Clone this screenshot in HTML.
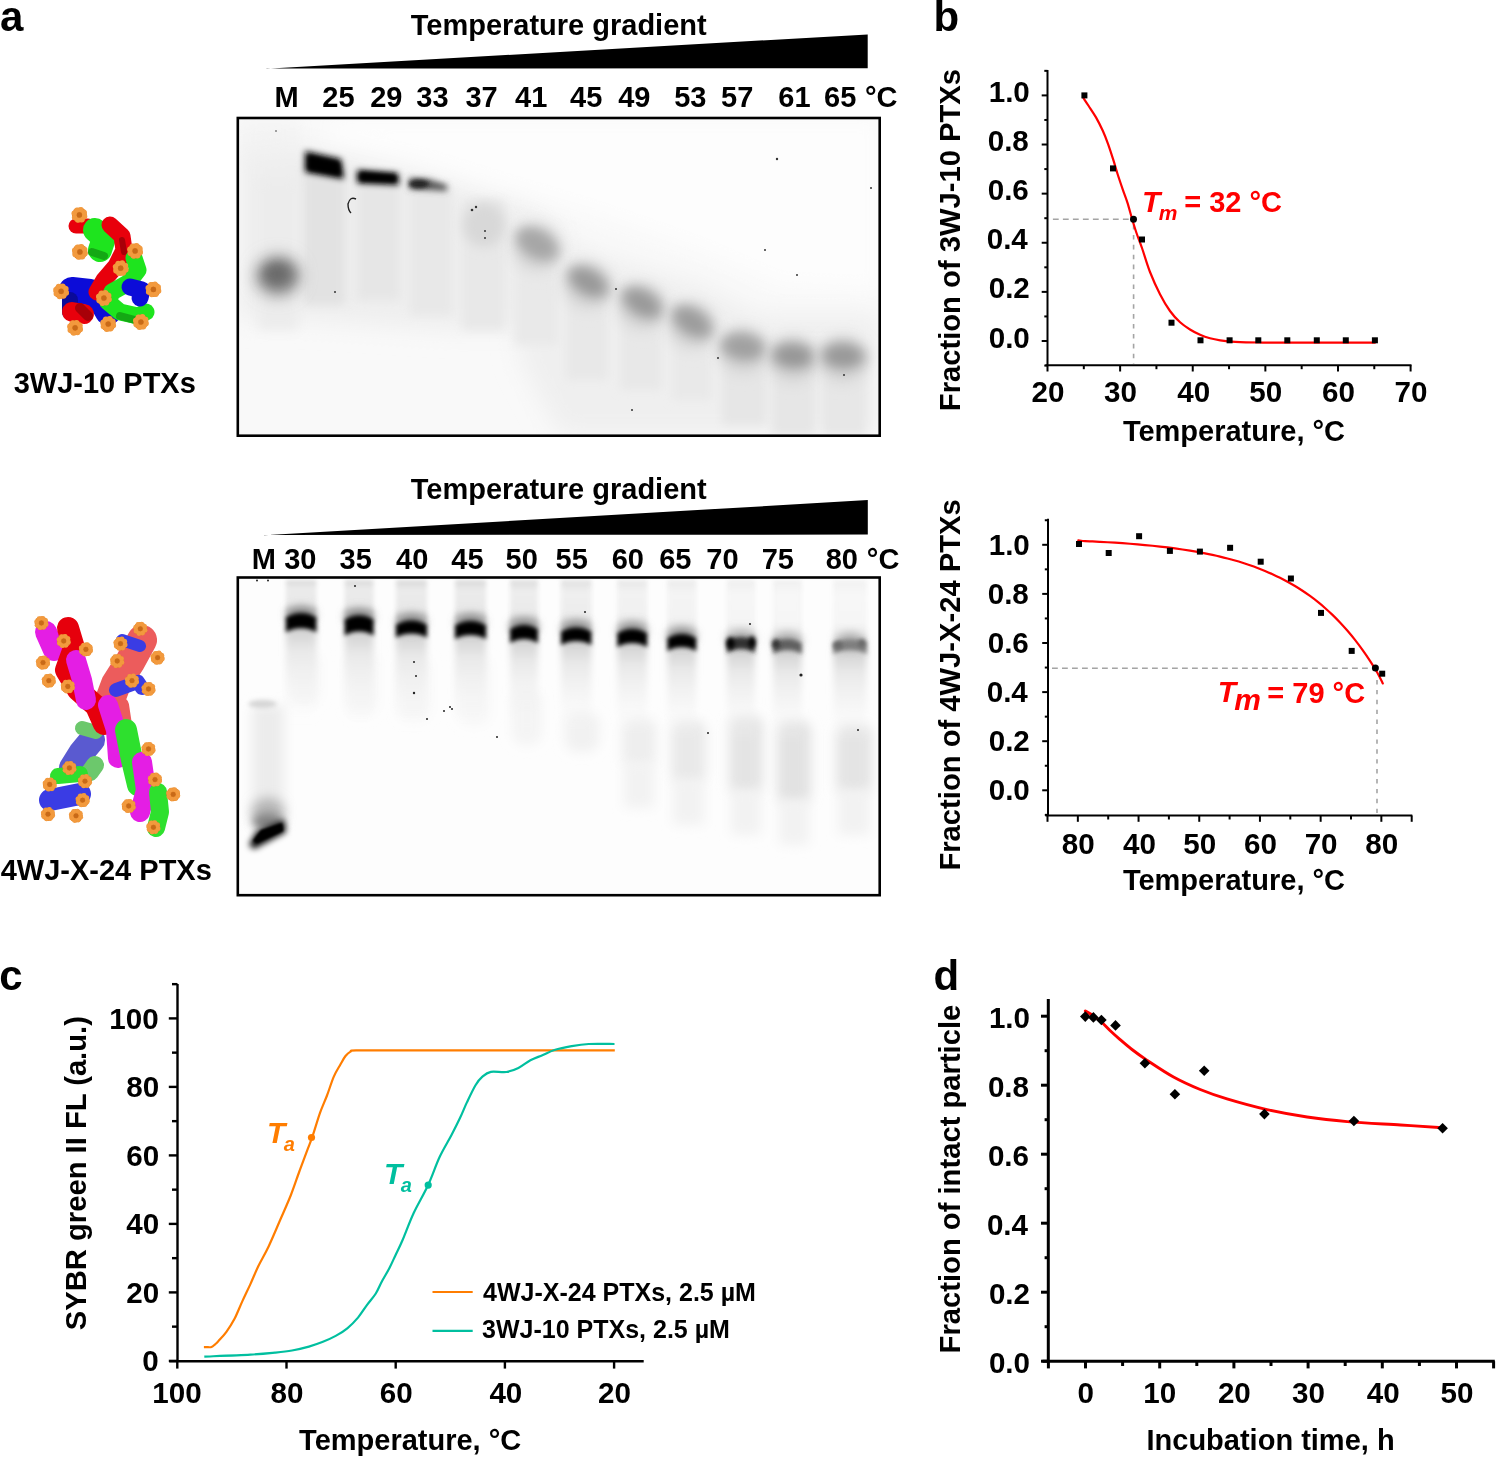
<!DOCTYPE html><html><head><meta charset="utf-8"><style>html,body{margin:0;padding:0;background:#fff;}svg{display:block;will-change:transform;}text{font-family:"Liberation Sans",sans-serif;}</style></head><body>
<svg width="1497" height="1457" viewBox="0 0 1497 1457">
<defs><filter id="b1" filterUnits="userSpaceOnUse" x="0" y="0" width="1497" height="1457"><feGaussianBlur stdDeviation="1"/></filter><filter id="b2" filterUnits="userSpaceOnUse" x="0" y="0" width="1497" height="1457"><feGaussianBlur stdDeviation="2"/></filter><filter id="b3" filterUnits="userSpaceOnUse" x="0" y="0" width="1497" height="1457"><feGaussianBlur stdDeviation="3"/></filter><filter id="b4" filterUnits="userSpaceOnUse" x="0" y="0" width="1497" height="1457"><feGaussianBlur stdDeviation="4"/></filter><filter id="b5" filterUnits="userSpaceOnUse" x="0" y="0" width="1497" height="1457"><feGaussianBlur stdDeviation="5"/></filter><filter id="b6" filterUnits="userSpaceOnUse" x="0" y="0" width="1497" height="1457"><feGaussianBlur stdDeviation="6"/></filter><filter id="b8" filterUnits="userSpaceOnUse" x="0" y="0" width="1497" height="1457"><feGaussianBlur stdDeviation="8"/></filter><filter id="b9" filterUnits="userSpaceOnUse" x="0" y="0" width="1497" height="1457"><feGaussianBlur stdDeviation="9"/></filter><filter id="b12" filterUnits="userSpaceOnUse" x="0" y="0" width="1497" height="1457"><feGaussianBlur stdDeviation="12"/></filter></defs>
<rect width="1497" height="1457" fill="#fff"/>
<text x="0.00" y="31.30" font-size="42" font-weight="bold" fill="#000" >a</text>
<text x="933.50" y="30.90" font-size="42" font-weight="bold" fill="#000" >b</text>
<text x="-0.70" y="990.30" font-size="42" font-weight="bold" fill="#000" >c</text>
<text x="933.40" y="990.30" font-size="42" font-weight="bold" fill="#000" >d</text>
<polygon points="266.5,68.8 867.7,34.4 867.7,68.3 266.5,68.6" fill="#000"/>
<polygon points="264.1,535.2 867.8,500.1 867.8,534.6 264.1,534.9" fill="#000"/>
<text x="410.70" y="34.50" font-size="29" font-weight="bold" fill="#000" >Temperature gradient</text>
<text x="410.70" y="499.30" font-size="29" font-weight="bold" fill="#000" >Temperature gradient</text>
<text x="274.60" y="106.60" font-size="29" font-weight="bold" fill="#000" >M</text>
<text x="322.30" y="106.60" font-size="29" font-weight="bold" fill="#000" >25</text>
<text x="370.20" y="106.60" font-size="29" font-weight="bold" fill="#000" >29</text>
<text x="416.30" y="106.60" font-size="29" font-weight="bold" fill="#000" >33</text>
<text x="465.40" y="106.60" font-size="29" font-weight="bold" fill="#000" >37</text>
<text x="515.00" y="106.60" font-size="29" font-weight="bold" fill="#000" >41</text>
<text x="570.00" y="106.60" font-size="29" font-weight="bold" fill="#000" >45</text>
<text x="618.20" y="106.60" font-size="29" font-weight="bold" fill="#000" >49</text>
<text x="674.20" y="106.60" font-size="29" font-weight="bold" fill="#000" >53</text>
<text x="721.00" y="106.60" font-size="29" font-weight="bold" fill="#000" >57</text>
<text x="778.30" y="106.60" font-size="29" font-weight="bold" fill="#000" >61</text>
<text x="824.00" y="106.60" font-size="29" font-weight="bold" fill="#000" >65</text>
<text x="864.90" y="106.60" font-size="29" font-weight="bold" fill="#000" >°C</text>
<text x="251.70" y="568.60" font-size="29" font-weight="bold" fill="#000" >M</text>
<text x="284.20" y="568.60" font-size="29" font-weight="bold" fill="#000" >30</text>
<text x="339.50" y="568.60" font-size="29" font-weight="bold" fill="#000" >35</text>
<text x="396.10" y="568.60" font-size="29" font-weight="bold" fill="#000" >40</text>
<text x="451.30" y="568.60" font-size="29" font-weight="bold" fill="#000" >45</text>
<text x="505.50" y="568.60" font-size="29" font-weight="bold" fill="#000" >50</text>
<text x="555.50" y="568.60" font-size="29" font-weight="bold" fill="#000" >55</text>
<text x="611.70" y="568.60" font-size="29" font-weight="bold" fill="#000" >60</text>
<text x="659.20" y="568.60" font-size="29" font-weight="bold" fill="#000" >65</text>
<text x="706.30" y="568.60" font-size="29" font-weight="bold" fill="#000" >70</text>
<text x="761.70" y="568.60" font-size="29" font-weight="bold" fill="#000" >75</text>
<text x="825.70" y="568.60" font-size="29" font-weight="bold" fill="#000" >80</text>
<text x="866.80" y="568.60" font-size="29" font-weight="bold" fill="#000" >°C</text>
<text x="13.70" y="393.10" font-size="29" font-weight="bold" fill="#000" >3WJ-10 PTXs</text>
<text x="0.70" y="879.70" font-size="29" font-weight="bold" fill="#000" >4WJ-X-24 PTXs</text>
<g clip-path="url(#gc1)">
<clipPath id="gc1"><rect x="239" y="119.3" width="639.5" height="315"/></clipPath>
<rect x="239" y="119" width="640" height="316" rx="0" fill="#f9f9f9"/>
<polygon points="239,119 300,119 300,150 239,160" fill="#f4f4f4" filter="url(#b8)"/>
<polygon points="239,150 300,145 420,175 520,205 560,225 560,330 450,330 300,320 239,320" fill="#eeeeee" filter="url(#b12)"/>
<polygon points="510,215 600,255 700,285 760,315 879,315 879,435 560,435 520,360" fill="#efefef" filter="url(#b12)"/>
<polygon points="330,119 879,119 879,290 780,285 700,250 600,215 500,185 420,160 330,140" fill="#fdfdfd" filter="url(#b9)"/>
<rect x="303" y="165" width="42" height="140" rx="0" fill="#e2e2e2" filter="url(#b5)"/>
<rect x="357" y="178" width="43" height="122" rx="0" fill="#e6e6e6" filter="url(#b5)"/>
<rect x="410" y="188" width="42" height="127" rx="0" fill="#e8e8e8" filter="url(#b5)"/>
<rect x="462" y="200" width="43" height="130" rx="0" fill="#e8e8e8" filter="url(#b5)"/>
<rect x="515" y="245" width="43" height="100" rx="0" fill="#e9e9e9" filter="url(#b5)"/>
<rect x="566" y="280" width="42" height="100" rx="0" fill="#e8e8e8" filter="url(#b5)"/>
<rect x="620" y="300" width="42" height="90" rx="0" fill="#e8e8e8" filter="url(#b5)"/>
<rect x="672" y="320" width="40" height="80" rx="0" fill="#e9e9e9" filter="url(#b5)"/>
<rect x="722" y="350" width="44" height="75" rx="0" fill="#e6e6e6" filter="url(#b5)"/>
<rect x="772" y="360" width="43" height="75" rx="0" fill="#e6e6e6" filter="url(#b5)"/>
<rect x="822" y="360" width="44" height="75" rx="0" fill="#e7e7e7" filter="url(#b5)"/>
<rect x="258" y="180" width="40" height="150" rx="0" fill="#ececec" filter="url(#b6)"/>
<ellipse cx="278" cy="276" rx="23" ry="21" fill="#a0a0a0" filter="url(#b8)"/>
<ellipse cx="278" cy="275" rx="17" ry="14" fill="#7c7c7c" filter="url(#b6)"/>
<ellipse cx="277" cy="274" rx="10" ry="8" fill="#6a6a6a" filter="url(#b4)"/>
<polygon points="305,151 341,159 344,179 305,172" fill="#111" filter="url(#b3)"/>
<polygon points="308,155 339,162 341,176 308,170" fill="#000" filter="url(#b2)"/>
<polygon points="357,170 398,173 399,185 357,183" fill="#111" filter="url(#b3)"/>
<polygon points="360,172 396,175 396,182 360,181" fill="#000" filter="url(#b2)"/>
<polygon points="409,178 428,179 447,185 447,191 409,189" fill="#555" filter="url(#b3)"/>
<ellipse cx="419" cy="184" rx="10" ry="4" fill="#222" filter="url(#b2)"/>
<ellipse cx="484" cy="225" rx="21" ry="22" fill="#d8d8d8" filter="url(#b6)"/>
<ellipse cx="537" cy="248" rx="22" ry="22" fill="#d2d2d2" filter="url(#b8)" transform="rotate(30 537 248)"/>
<ellipse cx="537" cy="244" rx="24" ry="15" fill="#b4b4b4" filter="url(#b6)" transform="rotate(30 537 244)"/>
<ellipse cx="537" cy="244" rx="16" ry="9" fill="#a6a6a6" filter="url(#b5)" transform="rotate(30 537 244)"/>
<ellipse cx="588" cy="286" rx="22" ry="22" fill="#d2d2d2" filter="url(#b8)" transform="rotate(30 588 286)"/>
<ellipse cx="588" cy="282" rx="24" ry="15" fill="#b4b4b4" filter="url(#b6)" transform="rotate(30 588 282)"/>
<ellipse cx="588" cy="282" rx="16" ry="9" fill="#999999" filter="url(#b5)" transform="rotate(30 588 282)"/>
<ellipse cx="642" cy="307" rx="22" ry="22" fill="#d2d2d2" filter="url(#b8)" transform="rotate(30 642 307)"/>
<ellipse cx="642" cy="303" rx="24" ry="15" fill="#b4b4b4" filter="url(#b6)" transform="rotate(30 642 303)"/>
<ellipse cx="642" cy="303" rx="16" ry="9" fill="#9a9a9a" filter="url(#b5)" transform="rotate(30 642 303)"/>
<ellipse cx="692" cy="326" rx="22" ry="22" fill="#d2d2d2" filter="url(#b8)" transform="rotate(32 692 326)"/>
<ellipse cx="692" cy="322" rx="24" ry="15" fill="#b4b4b4" filter="url(#b6)" transform="rotate(32 692 322)"/>
<ellipse cx="692" cy="322" rx="16" ry="9" fill="#9c9c9c" filter="url(#b5)" transform="rotate(32 692 322)"/>
<ellipse cx="743" cy="351" rx="22" ry="22" fill="#d2d2d2" filter="url(#b8)" transform="rotate(8 743 351)"/>
<ellipse cx="743" cy="347" rx="24" ry="15" fill="#b4b4b4" filter="url(#b6)" transform="rotate(8 743 347)"/>
<ellipse cx="743" cy="347" rx="16" ry="9" fill="#a0a0a0" filter="url(#b5)" transform="rotate(8 743 347)"/>
<ellipse cx="793" cy="360" rx="22" ry="22" fill="#d2d2d2" filter="url(#b8)" transform="rotate(4 793 360)"/>
<ellipse cx="793" cy="356" rx="24" ry="15" fill="#b4b4b4" filter="url(#b6)" transform="rotate(4 793 356)"/>
<ellipse cx="793" cy="356" rx="16" ry="9" fill="#979797" filter="url(#b5)" transform="rotate(4 793 356)"/>
<ellipse cx="843" cy="360" rx="22" ry="22" fill="#d2d2d2" filter="url(#b8)" transform="rotate(2 843 360)"/>
<ellipse cx="843" cy="356" rx="24" ry="15" fill="#b4b4b4" filter="url(#b6)" transform="rotate(2 843 356)"/>
<ellipse cx="843" cy="356" rx="16" ry="9" fill="#999999" filter="url(#b5)" transform="rotate(2 843 356)"/>
<circle cx="472" cy="210" r="1.3" fill="#333"/>
<circle cx="485" cy="231" r="1.0" fill="#333"/>
<circle cx="485" cy="238" r="1.0" fill="#333"/>
<circle cx="777" cy="159" r="1.2" fill="#333"/>
<circle cx="871" cy="188" r="1.0" fill="#333"/>
<circle cx="765" cy="250" r="1.0" fill="#333"/>
<circle cx="797" cy="275" r="1.0" fill="#333"/>
<circle cx="616" cy="289" r="1.0" fill="#333"/>
<circle cx="718" cy="358" r="1.0" fill="#333"/>
<circle cx="844" cy="375" r="1.0" fill="#333"/>
<circle cx="632" cy="410" r="1.0" fill="#333"/>
<circle cx="335" cy="292" r="1.0" fill="#333"/>
<circle cx="276" cy="131" r="0.8" fill="#333"/>
<circle cx="476" cy="207" r="1.2" fill="#333"/>
<path d="M356,199 q-6,-3 -8,5 q0,6 3,9" fill="none" stroke="#222" stroke-width="1.4"/>
</g>
<g clip-path="url(#gc2)">
<clipPath id="gc2"><rect x="239" y="578.8" width="639.5" height="315"/></clipPath>
<rect x="239" y="578" width="640" height="317" rx="0" fill="#fdfdfd"/>
<rect x="290" y="650" width="30" height="55" rx="12" fill="rgb(246,246,246)" filter="url(#b6)"/>
<rect x="347" y="650" width="30" height="65" rx="12" fill="rgb(246,246,246)" filter="url(#b6)"/>
<rect x="398" y="655" width="32" height="65" rx="12" fill="rgb(246,246,246)" filter="url(#b6)"/>
<rect x="458" y="655" width="32" height="70" rx="12" fill="rgb(247,247,247)" filter="url(#b6)"/>
<rect x="512" y="690" width="30" height="55" rx="12" fill="rgb(244,244,244)" filter="url(#b6)"/>
<rect x="565" y="712" width="34" height="40" rx="12" fill="rgb(241,241,241)" filter="url(#b6)"/>
<rect x="622" y="718" width="34" height="50" rx="12" fill="rgb(238,238,238)" filter="url(#b6)"/>
<rect x="671" y="720" width="35" height="65" rx="12" fill="rgb(233,233,233)" filter="url(#b6)"/>
<rect x="729" y="715" width="34" height="80" rx="12" fill="rgb(228,228,228)" filter="url(#b6)"/>
<rect x="777" y="720" width="34" height="85" rx="12" fill="rgb(226,226,226)" filter="url(#b6)"/>
<rect x="836" y="724" width="36" height="71" rx="12" fill="rgb(228,228,228)" filter="url(#b6)"/>
<rect x="624" y="763" width="30" height="45" rx="0" fill="#f2f2f2" filter="url(#b6)"/>
<rect x="673" y="780" width="31" height="45" rx="0" fill="#f2f2f2" filter="url(#b6)"/>
<rect x="731" y="790" width="30" height="45" rx="0" fill="#f2f2f2" filter="url(#b6)"/>
<rect x="779" y="800" width="30" height="45" rx="0" fill="#f2f2f2" filter="url(#b6)"/>
<rect x="838" y="790" width="32" height="45" rx="0" fill="#f2f2f2" filter="url(#b6)"/>
<defs><linearGradient id="wellg" x1="0" y1="0" x2="0" y2="1"><stop offset="0" stop-color="#d8d8d8"/><stop offset="0.25" stop-color="#ebebeb"/><stop offset="0.7" stop-color="#e8e8e8"/><stop offset="1" stop-color="#b8b8b8"/></linearGradient><linearGradient id="belowg" x1="0" y1="0" x2="0" y2="1"><stop offset="0" stop-color="#cfcfcf"/><stop offset="0.25" stop-color="#e9e9e9"/><stop offset="1" stop-color="#f8f8f8" stop-opacity="0"/></linearGradient></defs>
<rect x="285.8" y="580" width="30.599999999999966" height="34" fill="url(#wellg)" filter="url(#b2)" opacity="1"/>
<rect x="285.8" y="627.2" width="30.599999999999966" height="95" fill="url(#belowg)" filter="url(#b3)"/>
<rect x="344.6" y="580" width="29.0" height="36.200000000000045" fill="url(#wellg)" filter="url(#b2)" opacity="1"/>
<rect x="344.6" y="630.4" width="29.0" height="95" fill="url(#belowg)" filter="url(#b3)"/>
<rect x="395.9" y="580" width="31.100000000000023" height="41.5" fill="url(#wellg)" filter="url(#b2)" opacity="1"/>
<rect x="395.9" y="632.5" width="31.100000000000023" height="95" fill="url(#belowg)" filter="url(#b3)"/>
<rect x="455" y="580" width="31.100000000000023" height="42" fill="url(#wellg)" filter="url(#b2)" opacity="1"/>
<rect x="455" y="634" width="31.100000000000023" height="95" fill="url(#belowg)" filter="url(#b3)"/>
<rect x="510.1" y="580" width="27.799999999999955" height="46" fill="url(#wellg)" filter="url(#b2)" opacity="0.9"/>
<rect x="510.1" y="638" width="27.799999999999955" height="95" fill="url(#belowg)" filter="url(#b3)"/>
<rect x="561" y="580" width="30.399999999999977" height="48.5" fill="url(#wellg)" filter="url(#b2)" opacity="0.8"/>
<rect x="561" y="640" width="30.399999999999977" height="95" fill="url(#belowg)" filter="url(#b3)"/>
<rect x="617.3" y="580" width="29.90000000000009" height="50" fill="url(#wellg)" filter="url(#b2)" opacity="0.6"/>
<rect x="617.3" y="642" width="29.90000000000009" height="95" fill="url(#belowg)" filter="url(#b3)"/>
<rect x="667.4" y="580" width="28.800000000000068" height="55" fill="url(#wellg)" filter="url(#b2)" opacity="0.5"/>
<rect x="667.4" y="646" width="28.800000000000068" height="95" fill="url(#belowg)" filter="url(#b3)"/>
<rect x="726.9" y="580" width="28.0" height="58" fill="url(#wellg)" filter="url(#b2)" opacity="0.4"/>
<rect x="726.9" y="648" width="28.0" height="95" fill="url(#belowg)" filter="url(#b3)"/>
<rect x="773.1" y="580" width="28.699999999999932" height="60" fill="url(#wellg)" filter="url(#b2)" opacity="0.35"/>
<rect x="773.1" y="649" width="28.699999999999932" height="95" fill="url(#belowg)" filter="url(#b3)"/>
<rect x="833.3" y="580" width="33.40000000000009" height="60.5" fill="url(#wellg)" filter="url(#b2)" opacity="0.3"/>
<rect x="833.3" y="649" width="33.40000000000009" height="95" fill="url(#belowg)" filter="url(#b3)"/>
<ellipse cx="301.1" cy="615" rx="14.700000000000045" ry="9" fill="#909090" filter="url(#b4)"/>
<path d="M285.8,617 Q301.1,609 316.4,617 L316.4,632.2 Q301.1,624.2 285.8,632.2 Z" fill="rgb(0,0,0)" filter="url(#b2)"/>
<ellipse cx="359.1" cy="617.2" rx="14.700000000000045" ry="9" fill="#909090" filter="url(#b4)"/>
<path d="M344.6,619.2 Q359.1,611.2 373.6,619.2 L373.6,635.4 Q359.1,627.4 344.6,635.4 Z" fill="rgb(0,0,0)" filter="url(#b2)"/>
<ellipse cx="411.45" cy="622.5" rx="14.700000000000045" ry="9" fill="#909090" filter="url(#b4)"/>
<path d="M395.9,624.5 Q411.45,616.5 427,624.5 L427,637.5 Q411.45,629.5 395.9,637.5 Z" fill="rgb(0,0,0)" filter="url(#b2)"/>
<ellipse cx="470.55" cy="623" rx="14.700000000000045" ry="9" fill="#909090" filter="url(#b4)"/>
<path d="M455,625 Q470.55,617 486.1,625 L486.1,639 Q470.55,631 455,639 Z" fill="rgb(0,0,0)" filter="url(#b2)"/>
<ellipse cx="524.0" cy="627" rx="14.700000000000045" ry="9" fill="#909090" filter="url(#b4)"/>
<path d="M510.1,629 Q524.0,621 537.9,629 L537.9,643 Q524.0,635 510.1,643 Z" fill="rgb(0,0,0)" filter="url(#b2)"/>
<ellipse cx="576.2" cy="629.5" rx="14.700000000000045" ry="9" fill="#909090" filter="url(#b4)"/>
<path d="M561,631.5 Q576.2,623.5 591.4,631.5 L591.4,645 Q576.2,637 561,645 Z" fill="rgb(0,0,0)" filter="url(#b2)"/>
<ellipse cx="632.25" cy="631" rx="14.700000000000045" ry="9" fill="#909090" filter="url(#b4)"/>
<path d="M617.3,633 Q632.25,625 647.2,633 L647.2,647 Q632.25,639 617.3,647 Z" fill="rgb(0,0,0)" filter="url(#b2)"/>
<ellipse cx="681.8" cy="636" rx="14.700000000000045" ry="9" fill="#909090" filter="url(#b4)"/>
<path d="M667.4,638 Q681.8,630 696.2,638 L696.2,651 Q681.8,643 667.4,651 Z" fill="rgb(0,0,0)" filter="url(#b2)"/>
<ellipse cx="740.9" cy="639" rx="14.700000000000045" ry="9" fill="#b0b0b0" filter="url(#b4)"/>
<path d="M726.9,641 Q740.9,633 754.9,641 L754.9,653 Q740.9,645 726.9,653 Z" fill="rgb(50,50,50)" filter="url(#b2)"/>
<ellipse cx="787.45" cy="641" rx="14.700000000000045" ry="9" fill="#b0b0b0" filter="url(#b4)"/>
<path d="M773.1,643 Q787.45,635 801.8,643 L801.8,654 Q787.45,646 773.1,654 Z" fill="rgb(96,96,96)" filter="url(#b2)"/>
<ellipse cx="850.0" cy="641.5" rx="14.700000000000045" ry="9" fill="#b0b0b0" filter="url(#b4)"/>
<path d="M833.3,643.5 Q850.0,635.5 866.7,643.5 L866.7,654 Q850.0,646 833.3,654 Z" fill="rgb(127,127,127)" filter="url(#b2)"/>
<ellipse cx="730.5" cy="643" rx="4" ry="6" fill="#000" filter="url(#b2)"/>
<ellipse cx="752" cy="642" rx="3.5" ry="6" fill="#000" filter="url(#b2)"/>
<ellipse cx="776" cy="644" rx="4" ry="5" fill="#333" filter="url(#b2)"/>
<ellipse cx="838" cy="645" rx="5" ry="4" fill="#666" filter="url(#b2)"/>
<ellipse cx="862" cy="643" rx="4" ry="4" fill="#666" filter="url(#b2)"/>
<rect x="252" y="705" width="32" height="120" rx="0" fill="#ececec" filter="url(#b6)"/>
<ellipse cx="262.5" cy="704" rx="14" ry="4" fill="#d6d6d6" filter="url(#b2)"/>
<ellipse cx="268" cy="812" rx="16" ry="14" fill="#b4b4b4" filter="url(#b6)"/>
<ellipse cx="268" cy="822" rx="15" ry="8" fill="#808080" filter="url(#b4)"/>
<polygon points="249,845 256,832 284,820 286,832 254,849" fill="#000" filter="url(#b3)"/>
<polygon points="253,841 261,830 282,823 283,831 257,843" fill="#000" filter="url(#b1)"/>
<circle cx="257" cy="580.5" r="1" fill="#222"/>
<circle cx="268" cy="580.5" r="1" fill="#222"/>
<circle cx="355" cy="586" r="1" fill="#222"/>
<circle cx="414" cy="662" r="1" fill="#222"/>
<circle cx="416" cy="676" r="1" fill="#222"/>
<circle cx="414" cy="693" r="1.2" fill="#222"/>
<circle cx="444" cy="711" r="1" fill="#222"/>
<circle cx="427" cy="719" r="1" fill="#222"/>
<circle cx="450" cy="707" r="1" fill="#222"/>
<circle cx="452" cy="709" r="1" fill="#222"/>
<circle cx="497" cy="737" r="1" fill="#222"/>
<circle cx="801" cy="675" r="1.6" fill="#222"/>
<circle cx="858" cy="730" r="1" fill="#222"/>
<circle cx="708" cy="733" r="1" fill="#222"/>
<circle cx="585" cy="612" r="1" fill="#222"/>
<circle cx="750" cy="624" r="1" fill="#222"/>
</g>
<rect x="237.8" y="118" width="641.9" height="317.7" fill="none" stroke="#000" stroke-width="2.6"/>
<rect x="237.8" y="577.5" width="641.9" height="317.7" fill="none" stroke="#000" stroke-width="2.6"/>
<g>
<path d="M72,290 L90,292 L104,305 L108,312" fill="none" stroke="#0c0cd8" stroke-width="26" stroke-linecap="round" stroke-linejoin="round"/>
<path d="M70,300 L70,312" fill="none" stroke="#0a0a9a" stroke-width="16" stroke-linecap="round" stroke-linejoin="round"/>
<path d="M72,312 L84,314" fill="none" stroke="#e8000c" stroke-width="20" stroke-linecap="round" stroke-linejoin="round"/>
<path d="M80,308 L88,316" fill="none" stroke="#a80008" stroke-width="10" stroke-linecap="round" stroke-linejoin="round"/>
<path d="M76,226 L88,226" fill="none" stroke="#e8000c" stroke-width="15" stroke-linecap="round" stroke-linejoin="round"/>
<path d="M95,230 L104,238 L100,250" fill="none" stroke="#1ee41e" stroke-width="24" stroke-linecap="round" stroke-linejoin="round"/>
<path d="M92,252 L104,256" fill="none" stroke="#14a814" stroke-width="8" stroke-linecap="round" stroke-linejoin="round"/>
<path d="M110,225 L122,236 L124,250 L116,266 L104,280 L97,292" fill="none" stroke="#e8000c" stroke-width="17" stroke-linecap="round" stroke-linejoin="round"/>
<path d="M122,240 L124,252" fill="none" stroke="#a80008" stroke-width="6" stroke-linecap="round" stroke-linejoin="round"/>
<path d="M134,258 L138,270 L128,283 L112,292 L108,302 L120,312 L138,316 L146,312" fill="none" stroke="#1ee41e" stroke-width="17" stroke-linecap="round" stroke-linejoin="round"/>
<path d="M120,316 L135,320" fill="none" stroke="#14a814" stroke-width="8" stroke-linecap="round" stroke-linejoin="round"/>
<path d="M130,287 L142,290 L140,298" fill="none" stroke="#0c0cd8" stroke-width="17" stroke-linecap="round" stroke-linejoin="round"/>
<circle cx="79.4" cy="214.9" r="7.5" fill="#e07f22"/><circle cx="84.6" cy="216.5" r="2.7" fill="#f29a3e"/><circle cx="81.9" cy="219.7" r="2.7" fill="#f29a3e"/><circle cx="77.8" cy="220.1" r="2.7" fill="#f29a3e"/><circle cx="74.6" cy="217.4" r="2.7" fill="#f29a3e"/><circle cx="74.2" cy="213.3" r="2.7" fill="#f29a3e"/><circle cx="76.9" cy="210.1" r="2.7" fill="#f29a3e"/><circle cx="81.0" cy="209.7" r="2.7" fill="#f29a3e"/><circle cx="84.2" cy="212.4" r="2.7" fill="#f29a3e"/><circle cx="79.4" cy="214.9" r="2.6" fill="#c86a18"/>
<circle cx="79.9" cy="251.9" r="7.5" fill="#e07f22"/><circle cx="85.1" cy="253.5" r="2.7" fill="#f29a3e"/><circle cx="82.4" cy="256.7" r="2.7" fill="#f29a3e"/><circle cx="78.3" cy="257.1" r="2.7" fill="#f29a3e"/><circle cx="75.1" cy="254.4" r="2.7" fill="#f29a3e"/><circle cx="74.7" cy="250.3" r="2.7" fill="#f29a3e"/><circle cx="77.4" cy="247.1" r="2.7" fill="#f29a3e"/><circle cx="81.5" cy="246.7" r="2.7" fill="#f29a3e"/><circle cx="84.7" cy="249.4" r="2.7" fill="#f29a3e"/><circle cx="79.9" cy="251.9" r="2.6" fill="#c86a18"/>
<circle cx="135.1" cy="250.9" r="7.5" fill="#e07f22"/><circle cx="140.3" cy="252.5" r="2.7" fill="#f29a3e"/><circle cx="137.6" cy="255.7" r="2.7" fill="#f29a3e"/><circle cx="133.5" cy="256.1" r="2.7" fill="#f29a3e"/><circle cx="130.3" cy="253.4" r="2.7" fill="#f29a3e"/><circle cx="129.9" cy="249.3" r="2.7" fill="#f29a3e"/><circle cx="132.6" cy="246.1" r="2.7" fill="#f29a3e"/><circle cx="136.7" cy="245.7" r="2.7" fill="#f29a3e"/><circle cx="139.9" cy="248.4" r="2.7" fill="#f29a3e"/><circle cx="135.1" cy="250.9" r="2.6" fill="#c86a18"/>
<circle cx="120.7" cy="268.2" r="7.5" fill="#e07f22"/><circle cx="125.9" cy="269.8" r="2.7" fill="#f29a3e"/><circle cx="123.2" cy="273.0" r="2.7" fill="#f29a3e"/><circle cx="119.1" cy="273.4" r="2.7" fill="#f29a3e"/><circle cx="115.9" cy="270.7" r="2.7" fill="#f29a3e"/><circle cx="115.5" cy="266.6" r="2.7" fill="#f29a3e"/><circle cx="118.2" cy="263.4" r="2.7" fill="#f29a3e"/><circle cx="122.3" cy="263.0" r="2.7" fill="#f29a3e"/><circle cx="125.5" cy="265.7" r="2.7" fill="#f29a3e"/><circle cx="120.7" cy="268.2" r="2.6" fill="#c86a18"/>
<circle cx="61.1" cy="291.3" r="7.5" fill="#e07f22"/><circle cx="66.3" cy="292.9" r="2.7" fill="#f29a3e"/><circle cx="63.6" cy="296.1" r="2.7" fill="#f29a3e"/><circle cx="59.5" cy="296.5" r="2.7" fill="#f29a3e"/><circle cx="56.3" cy="293.8" r="2.7" fill="#f29a3e"/><circle cx="55.9" cy="289.7" r="2.7" fill="#f29a3e"/><circle cx="58.6" cy="286.5" r="2.7" fill="#f29a3e"/><circle cx="62.7" cy="286.1" r="2.7" fill="#f29a3e"/><circle cx="65.9" cy="288.8" r="2.7" fill="#f29a3e"/><circle cx="61.1" cy="291.3" r="2.6" fill="#c86a18"/>
<circle cx="103.9" cy="298" r="7.5" fill="#e07f22"/><circle cx="109.1" cy="299.6" r="2.7" fill="#f29a3e"/><circle cx="106.4" cy="302.8" r="2.7" fill="#f29a3e"/><circle cx="102.3" cy="303.2" r="2.7" fill="#f29a3e"/><circle cx="99.1" cy="300.5" r="2.7" fill="#f29a3e"/><circle cx="98.7" cy="296.4" r="2.7" fill="#f29a3e"/><circle cx="101.4" cy="293.2" r="2.7" fill="#f29a3e"/><circle cx="105.5" cy="292.8" r="2.7" fill="#f29a3e"/><circle cx="108.7" cy="295.5" r="2.7" fill="#f29a3e"/><circle cx="103.9" cy="298" r="2.6" fill="#c86a18"/>
<circle cx="153.4" cy="289.4" r="7.5" fill="#e07f22"/><circle cx="158.6" cy="291.0" r="2.7" fill="#f29a3e"/><circle cx="155.9" cy="294.2" r="2.7" fill="#f29a3e"/><circle cx="151.8" cy="294.6" r="2.7" fill="#f29a3e"/><circle cx="148.6" cy="291.9" r="2.7" fill="#f29a3e"/><circle cx="148.2" cy="287.8" r="2.7" fill="#f29a3e"/><circle cx="150.9" cy="284.6" r="2.7" fill="#f29a3e"/><circle cx="155.0" cy="284.2" r="2.7" fill="#f29a3e"/><circle cx="158.2" cy="286.9" r="2.7" fill="#f29a3e"/><circle cx="153.4" cy="289.4" r="2.6" fill="#c86a18"/>
<circle cx="75.1" cy="327.8" r="7.5" fill="#e07f22"/><circle cx="80.3" cy="329.4" r="2.7" fill="#f29a3e"/><circle cx="77.6" cy="332.6" r="2.7" fill="#f29a3e"/><circle cx="73.5" cy="333.0" r="2.7" fill="#f29a3e"/><circle cx="70.3" cy="330.3" r="2.7" fill="#f29a3e"/><circle cx="69.9" cy="326.2" r="2.7" fill="#f29a3e"/><circle cx="72.6" cy="323.0" r="2.7" fill="#f29a3e"/><circle cx="76.7" cy="322.6" r="2.7" fill="#f29a3e"/><circle cx="79.9" cy="325.3" r="2.7" fill="#f29a3e"/><circle cx="75.1" cy="327.8" r="2.6" fill="#c86a18"/>
<circle cx="108.2" cy="324" r="7.5" fill="#e07f22"/><circle cx="113.4" cy="325.6" r="2.7" fill="#f29a3e"/><circle cx="110.7" cy="328.8" r="2.7" fill="#f29a3e"/><circle cx="106.6" cy="329.2" r="2.7" fill="#f29a3e"/><circle cx="103.4" cy="326.5" r="2.7" fill="#f29a3e"/><circle cx="103.0" cy="322.4" r="2.7" fill="#f29a3e"/><circle cx="105.7" cy="319.2" r="2.7" fill="#f29a3e"/><circle cx="109.8" cy="318.8" r="2.7" fill="#f29a3e"/><circle cx="113.0" cy="321.5" r="2.7" fill="#f29a3e"/><circle cx="108.2" cy="324" r="2.6" fill="#c86a18"/>
<circle cx="140.9" cy="322" r="7.5" fill="#e07f22"/><circle cx="146.1" cy="323.6" r="2.7" fill="#f29a3e"/><circle cx="143.4" cy="326.8" r="2.7" fill="#f29a3e"/><circle cx="139.3" cy="327.2" r="2.7" fill="#f29a3e"/><circle cx="136.1" cy="324.5" r="2.7" fill="#f29a3e"/><circle cx="135.7" cy="320.4" r="2.7" fill="#f29a3e"/><circle cx="138.4" cy="317.2" r="2.7" fill="#f29a3e"/><circle cx="142.5" cy="316.8" r="2.7" fill="#f29a3e"/><circle cx="145.7" cy="319.5" r="2.7" fill="#f29a3e"/><circle cx="140.9" cy="322" r="2.6" fill="#c86a18"/>
</g>
<g>
<path d="M142,640 L130,662 L116,684 L110,700" fill="none" stroke="#ec5c5c" stroke-width="30" stroke-linecap="round" stroke-linejoin="round"/>
<path d="M125,725 L122,705" fill="none" stroke="#ec5c5c" stroke-width="14" stroke-linecap="round" stroke-linejoin="round"/>
<path d="M122,640 L140,646" fill="none" stroke="#3a3ce4" stroke-width="12" stroke-linecap="round" stroke-linejoin="round"/>
<path d="M116,690 L138,682 L142,688" fill="none" stroke="#3a3ce4" stroke-width="14" stroke-linecap="round" stroke-linejoin="round"/>
<path d="M92,740 L82,752 L72,768" fill="none" stroke="#5a5ad0" stroke-width="26" stroke-linecap="round" stroke-linejoin="round"/>
<path d="M82,728 L96,732" fill="none" stroke="#6cc86c" stroke-width="14" stroke-linecap="round" stroke-linejoin="round"/>
<path d="M95,765 L90,772" fill="none" stroke="#6cc86c" stroke-width="18" stroke-linecap="round" stroke-linejoin="round"/>
<path d="M58,776 L80,774" fill="none" stroke="#2ee02e" stroke-width="16" stroke-linecap="round" stroke-linejoin="round"/>
<path d="M50,800 L80,794" fill="none" stroke="#3a3ce4" stroke-width="22" stroke-linecap="round" stroke-linejoin="round"/>
<path d="M46,632 L54,650" fill="none" stroke="#e41ee4" stroke-width="22" stroke-linecap="round" stroke-linejoin="round"/>
<path d="M68,628 L74,648 L66,670 L78,690 L96,706 L104,724" fill="none" stroke="#e6000c" stroke-width="22" stroke-linecap="round" stroke-linejoin="round"/>
<path d="M76,660 L82,680 L86,700" fill="none" stroke="#e41ee4" stroke-width="20" stroke-linecap="round" stroke-linejoin="round"/>
<path d="M108,705 L116,730 L118,758" fill="none" stroke="#e41ee4" stroke-width="20" stroke-linecap="round" stroke-linejoin="round"/>
<path d="M126,730 L132,760 L138,785" fill="none" stroke="#2ee02e" stroke-width="22" stroke-linecap="round" stroke-linejoin="round"/>
<path d="M142,762 L146,790 L140,812" fill="none" stroke="#e41ee4" stroke-width="20" stroke-linecap="round" stroke-linejoin="round"/>
<path d="M158,792 L160,812 L156,828" fill="none" stroke="#2ee02e" stroke-width="18" stroke-linecap="round" stroke-linejoin="round"/>
<circle cx="41.4" cy="623" r="6.8" fill="#e07f22"/><circle cx="46.1" cy="624.4" r="2.4" fill="#f29a3e"/><circle cx="43.7" cy="627.3" r="2.4" fill="#f29a3e"/><circle cx="40.0" cy="627.7" r="2.4" fill="#f29a3e"/><circle cx="37.1" cy="625.3" r="2.4" fill="#f29a3e"/><circle cx="36.7" cy="621.6" r="2.4" fill="#f29a3e"/><circle cx="39.1" cy="618.7" r="2.4" fill="#f29a3e"/><circle cx="42.8" cy="618.3" r="2.4" fill="#f29a3e"/><circle cx="45.7" cy="620.7" r="2.4" fill="#f29a3e"/><circle cx="41.4" cy="623" r="2.4" fill="#c86a18"/>
<circle cx="63.7" cy="641" r="6.8" fill="#e07f22"/><circle cx="68.4" cy="642.4" r="2.4" fill="#f29a3e"/><circle cx="66.0" cy="645.3" r="2.4" fill="#f29a3e"/><circle cx="62.3" cy="645.7" r="2.4" fill="#f29a3e"/><circle cx="59.4" cy="643.3" r="2.4" fill="#f29a3e"/><circle cx="59.0" cy="639.6" r="2.4" fill="#f29a3e"/><circle cx="61.4" cy="636.7" r="2.4" fill="#f29a3e"/><circle cx="65.1" cy="636.3" r="2.4" fill="#f29a3e"/><circle cx="68.0" cy="638.7" r="2.4" fill="#f29a3e"/><circle cx="63.7" cy="641" r="2.4" fill="#c86a18"/>
<circle cx="85.9" cy="649.4" r="6.8" fill="#e07f22"/><circle cx="90.6" cy="650.8" r="2.4" fill="#f29a3e"/><circle cx="88.2" cy="653.7" r="2.4" fill="#f29a3e"/><circle cx="84.5" cy="654.1" r="2.4" fill="#f29a3e"/><circle cx="81.6" cy="651.7" r="2.4" fill="#f29a3e"/><circle cx="81.2" cy="648.0" r="2.4" fill="#f29a3e"/><circle cx="83.6" cy="645.1" r="2.4" fill="#f29a3e"/><circle cx="87.3" cy="644.7" r="2.4" fill="#f29a3e"/><circle cx="90.2" cy="647.1" r="2.4" fill="#f29a3e"/><circle cx="85.9" cy="649.4" r="2.4" fill="#c86a18"/>
<circle cx="43" cy="662.6" r="6.8" fill="#e07f22"/><circle cx="47.7" cy="664.0" r="2.4" fill="#f29a3e"/><circle cx="45.3" cy="666.9" r="2.4" fill="#f29a3e"/><circle cx="41.6" cy="667.3" r="2.4" fill="#f29a3e"/><circle cx="38.7" cy="664.9" r="2.4" fill="#f29a3e"/><circle cx="38.3" cy="661.2" r="2.4" fill="#f29a3e"/><circle cx="40.7" cy="658.3" r="2.4" fill="#f29a3e"/><circle cx="44.4" cy="657.9" r="2.4" fill="#f29a3e"/><circle cx="47.3" cy="660.3" r="2.4" fill="#f29a3e"/><circle cx="43" cy="662.6" r="2.4" fill="#c86a18"/>
<circle cx="48.8" cy="680.7" r="6.8" fill="#e07f22"/><circle cx="53.5" cy="682.1" r="2.4" fill="#f29a3e"/><circle cx="51.1" cy="685.0" r="2.4" fill="#f29a3e"/><circle cx="47.4" cy="685.4" r="2.4" fill="#f29a3e"/><circle cx="44.5" cy="683.0" r="2.4" fill="#f29a3e"/><circle cx="44.1" cy="679.3" r="2.4" fill="#f29a3e"/><circle cx="46.5" cy="676.4" r="2.4" fill="#f29a3e"/><circle cx="50.2" cy="676.0" r="2.4" fill="#f29a3e"/><circle cx="53.1" cy="678.4" r="2.4" fill="#f29a3e"/><circle cx="48.8" cy="680.7" r="2.4" fill="#c86a18"/>
<circle cx="67.8" cy="686.5" r="6.8" fill="#e07f22"/><circle cx="72.5" cy="687.9" r="2.4" fill="#f29a3e"/><circle cx="70.1" cy="690.8" r="2.4" fill="#f29a3e"/><circle cx="66.4" cy="691.2" r="2.4" fill="#f29a3e"/><circle cx="63.5" cy="688.8" r="2.4" fill="#f29a3e"/><circle cx="63.1" cy="685.1" r="2.4" fill="#f29a3e"/><circle cx="65.5" cy="682.2" r="2.4" fill="#f29a3e"/><circle cx="69.2" cy="681.8" r="2.4" fill="#f29a3e"/><circle cx="72.1" cy="684.2" r="2.4" fill="#f29a3e"/><circle cx="67.8" cy="686.5" r="2.4" fill="#c86a18"/>
<circle cx="140.3" cy="628.8" r="6.8" fill="#e07f22"/><circle cx="145.0" cy="630.2" r="2.4" fill="#f29a3e"/><circle cx="142.6" cy="633.1" r="2.4" fill="#f29a3e"/><circle cx="138.9" cy="633.5" r="2.4" fill="#f29a3e"/><circle cx="136.0" cy="631.1" r="2.4" fill="#f29a3e"/><circle cx="135.6" cy="627.4" r="2.4" fill="#f29a3e"/><circle cx="138.0" cy="624.5" r="2.4" fill="#f29a3e"/><circle cx="141.7" cy="624.1" r="2.4" fill="#f29a3e"/><circle cx="144.6" cy="626.5" r="2.4" fill="#f29a3e"/><circle cx="140.3" cy="628.8" r="2.4" fill="#c86a18"/>
<circle cx="120.5" cy="643.7" r="6.8" fill="#e07f22"/><circle cx="125.2" cy="645.1" r="2.4" fill="#f29a3e"/><circle cx="122.8" cy="648.0" r="2.4" fill="#f29a3e"/><circle cx="119.1" cy="648.4" r="2.4" fill="#f29a3e"/><circle cx="116.2" cy="646.0" r="2.4" fill="#f29a3e"/><circle cx="115.8" cy="642.3" r="2.4" fill="#f29a3e"/><circle cx="118.2" cy="639.4" r="2.4" fill="#f29a3e"/><circle cx="121.9" cy="639.0" r="2.4" fill="#f29a3e"/><circle cx="124.8" cy="641.4" r="2.4" fill="#f29a3e"/><circle cx="120.5" cy="643.7" r="2.4" fill="#c86a18"/>
<circle cx="157.6" cy="657.7" r="6.8" fill="#e07f22"/><circle cx="162.3" cy="659.1" r="2.4" fill="#f29a3e"/><circle cx="159.9" cy="662.0" r="2.4" fill="#f29a3e"/><circle cx="156.2" cy="662.4" r="2.4" fill="#f29a3e"/><circle cx="153.3" cy="660.0" r="2.4" fill="#f29a3e"/><circle cx="152.9" cy="656.3" r="2.4" fill="#f29a3e"/><circle cx="155.3" cy="653.4" r="2.4" fill="#f29a3e"/><circle cx="159.0" cy="653.0" r="2.4" fill="#f29a3e"/><circle cx="161.9" cy="655.4" r="2.4" fill="#f29a3e"/><circle cx="157.6" cy="657.7" r="2.4" fill="#c86a18"/>
<circle cx="117.2" cy="661" r="6.8" fill="#e07f22"/><circle cx="121.9" cy="662.4" r="2.4" fill="#f29a3e"/><circle cx="119.5" cy="665.3" r="2.4" fill="#f29a3e"/><circle cx="115.8" cy="665.7" r="2.4" fill="#f29a3e"/><circle cx="112.9" cy="663.3" r="2.4" fill="#f29a3e"/><circle cx="112.5" cy="659.6" r="2.4" fill="#f29a3e"/><circle cx="114.9" cy="656.7" r="2.4" fill="#f29a3e"/><circle cx="118.6" cy="656.3" r="2.4" fill="#f29a3e"/><circle cx="121.5" cy="658.7" r="2.4" fill="#f29a3e"/><circle cx="117.2" cy="661" r="2.4" fill="#c86a18"/>
<circle cx="132" cy="680.7" r="6.8" fill="#e07f22"/><circle cx="136.7" cy="682.1" r="2.4" fill="#f29a3e"/><circle cx="134.3" cy="685.0" r="2.4" fill="#f29a3e"/><circle cx="130.6" cy="685.4" r="2.4" fill="#f29a3e"/><circle cx="127.7" cy="683.0" r="2.4" fill="#f29a3e"/><circle cx="127.3" cy="679.3" r="2.4" fill="#f29a3e"/><circle cx="129.7" cy="676.4" r="2.4" fill="#f29a3e"/><circle cx="133.4" cy="676.0" r="2.4" fill="#f29a3e"/><circle cx="136.3" cy="678.4" r="2.4" fill="#f29a3e"/><circle cx="132" cy="680.7" r="2.4" fill="#c86a18"/>
<circle cx="148.5" cy="689" r="6.8" fill="#e07f22"/><circle cx="153.2" cy="690.4" r="2.4" fill="#f29a3e"/><circle cx="150.8" cy="693.3" r="2.4" fill="#f29a3e"/><circle cx="147.1" cy="693.7" r="2.4" fill="#f29a3e"/><circle cx="144.2" cy="691.3" r="2.4" fill="#f29a3e"/><circle cx="143.8" cy="687.6" r="2.4" fill="#f29a3e"/><circle cx="146.2" cy="684.7" r="2.4" fill="#f29a3e"/><circle cx="149.9" cy="684.3" r="2.4" fill="#f29a3e"/><circle cx="152.8" cy="686.7" r="2.4" fill="#f29a3e"/><circle cx="148.5" cy="689" r="2.4" fill="#c86a18"/>
<circle cx="148.5" cy="749" r="6.8" fill="#e07f22"/><circle cx="153.2" cy="750.4" r="2.4" fill="#f29a3e"/><circle cx="150.8" cy="753.3" r="2.4" fill="#f29a3e"/><circle cx="147.1" cy="753.7" r="2.4" fill="#f29a3e"/><circle cx="144.2" cy="751.3" r="2.4" fill="#f29a3e"/><circle cx="143.8" cy="747.6" r="2.4" fill="#f29a3e"/><circle cx="146.2" cy="744.7" r="2.4" fill="#f29a3e"/><circle cx="149.9" cy="744.3" r="2.4" fill="#f29a3e"/><circle cx="152.8" cy="746.7" r="2.4" fill="#f29a3e"/><circle cx="148.5" cy="749" r="2.4" fill="#c86a18"/>
<circle cx="69.4" cy="768" r="6.8" fill="#e07f22"/><circle cx="74.1" cy="769.4" r="2.4" fill="#f29a3e"/><circle cx="71.7" cy="772.3" r="2.4" fill="#f29a3e"/><circle cx="68.0" cy="772.7" r="2.4" fill="#f29a3e"/><circle cx="65.1" cy="770.3" r="2.4" fill="#f29a3e"/><circle cx="64.7" cy="766.6" r="2.4" fill="#f29a3e"/><circle cx="67.1" cy="763.7" r="2.4" fill="#f29a3e"/><circle cx="70.8" cy="763.3" r="2.4" fill="#f29a3e"/><circle cx="73.7" cy="765.7" r="2.4" fill="#f29a3e"/><circle cx="69.4" cy="768" r="2.4" fill="#c86a18"/>
<circle cx="49.7" cy="784.5" r="6.8" fill="#e07f22"/><circle cx="54.4" cy="785.9" r="2.4" fill="#f29a3e"/><circle cx="52.0" cy="788.8" r="2.4" fill="#f29a3e"/><circle cx="48.3" cy="789.2" r="2.4" fill="#f29a3e"/><circle cx="45.4" cy="786.8" r="2.4" fill="#f29a3e"/><circle cx="45.0" cy="783.1" r="2.4" fill="#f29a3e"/><circle cx="47.4" cy="780.2" r="2.4" fill="#f29a3e"/><circle cx="51.1" cy="779.8" r="2.4" fill="#f29a3e"/><circle cx="54.0" cy="782.2" r="2.4" fill="#f29a3e"/><circle cx="49.7" cy="784.5" r="2.4" fill="#c86a18"/>
<circle cx="85" cy="781.2" r="6.8" fill="#e07f22"/><circle cx="89.7" cy="782.6" r="2.4" fill="#f29a3e"/><circle cx="87.3" cy="785.5" r="2.4" fill="#f29a3e"/><circle cx="83.6" cy="785.9" r="2.4" fill="#f29a3e"/><circle cx="80.7" cy="783.5" r="2.4" fill="#f29a3e"/><circle cx="80.3" cy="779.8" r="2.4" fill="#f29a3e"/><circle cx="82.7" cy="776.9" r="2.4" fill="#f29a3e"/><circle cx="86.4" cy="776.5" r="2.4" fill="#f29a3e"/><circle cx="89.3" cy="778.9" r="2.4" fill="#f29a3e"/><circle cx="85" cy="781.2" r="2.4" fill="#c86a18"/>
<circle cx="82.6" cy="800.2" r="6.8" fill="#e07f22"/><circle cx="87.3" cy="801.6" r="2.4" fill="#f29a3e"/><circle cx="84.9" cy="804.5" r="2.4" fill="#f29a3e"/><circle cx="81.2" cy="804.9" r="2.4" fill="#f29a3e"/><circle cx="78.3" cy="802.5" r="2.4" fill="#f29a3e"/><circle cx="77.9" cy="798.8" r="2.4" fill="#f29a3e"/><circle cx="80.3" cy="795.9" r="2.4" fill="#f29a3e"/><circle cx="84.0" cy="795.5" r="2.4" fill="#f29a3e"/><circle cx="86.9" cy="797.9" r="2.4" fill="#f29a3e"/><circle cx="82.6" cy="800.2" r="2.4" fill="#c86a18"/>
<circle cx="48" cy="814.2" r="6.8" fill="#e07f22"/><circle cx="52.7" cy="815.6" r="2.4" fill="#f29a3e"/><circle cx="50.3" cy="818.5" r="2.4" fill="#f29a3e"/><circle cx="46.6" cy="818.9" r="2.4" fill="#f29a3e"/><circle cx="43.7" cy="816.5" r="2.4" fill="#f29a3e"/><circle cx="43.3" cy="812.8" r="2.4" fill="#f29a3e"/><circle cx="45.7" cy="809.9" r="2.4" fill="#f29a3e"/><circle cx="49.4" cy="809.5" r="2.4" fill="#f29a3e"/><circle cx="52.3" cy="811.9" r="2.4" fill="#f29a3e"/><circle cx="48" cy="814.2" r="2.4" fill="#c86a18"/>
<circle cx="76" cy="815.8" r="6.8" fill="#e07f22"/><circle cx="80.7" cy="817.2" r="2.4" fill="#f29a3e"/><circle cx="78.3" cy="820.1" r="2.4" fill="#f29a3e"/><circle cx="74.6" cy="820.5" r="2.4" fill="#f29a3e"/><circle cx="71.7" cy="818.1" r="2.4" fill="#f29a3e"/><circle cx="71.3" cy="814.4" r="2.4" fill="#f29a3e"/><circle cx="73.7" cy="811.5" r="2.4" fill="#f29a3e"/><circle cx="77.4" cy="811.1" r="2.4" fill="#f29a3e"/><circle cx="80.3" cy="813.5" r="2.4" fill="#f29a3e"/><circle cx="76" cy="815.8" r="2.4" fill="#c86a18"/>
<circle cx="155" cy="779.6" r="6.8" fill="#e07f22"/><circle cx="159.7" cy="781.0" r="2.4" fill="#f29a3e"/><circle cx="157.3" cy="783.9" r="2.4" fill="#f29a3e"/><circle cx="153.6" cy="784.3" r="2.4" fill="#f29a3e"/><circle cx="150.7" cy="781.9" r="2.4" fill="#f29a3e"/><circle cx="150.3" cy="778.2" r="2.4" fill="#f29a3e"/><circle cx="152.7" cy="775.3" r="2.4" fill="#f29a3e"/><circle cx="156.4" cy="774.9" r="2.4" fill="#f29a3e"/><circle cx="159.3" cy="777.3" r="2.4" fill="#f29a3e"/><circle cx="155" cy="779.6" r="2.4" fill="#c86a18"/>
<circle cx="173.2" cy="794.4" r="6.8" fill="#e07f22"/><circle cx="177.9" cy="795.8" r="2.4" fill="#f29a3e"/><circle cx="175.5" cy="798.7" r="2.4" fill="#f29a3e"/><circle cx="171.8" cy="799.1" r="2.4" fill="#f29a3e"/><circle cx="168.9" cy="796.7" r="2.4" fill="#f29a3e"/><circle cx="168.5" cy="793.0" r="2.4" fill="#f29a3e"/><circle cx="170.9" cy="790.1" r="2.4" fill="#f29a3e"/><circle cx="174.6" cy="789.7" r="2.4" fill="#f29a3e"/><circle cx="177.5" cy="792.1" r="2.4" fill="#f29a3e"/><circle cx="173.2" cy="794.4" r="2.4" fill="#c86a18"/>
<circle cx="128.7" cy="806" r="6.8" fill="#e07f22"/><circle cx="133.4" cy="807.4" r="2.4" fill="#f29a3e"/><circle cx="131.0" cy="810.3" r="2.4" fill="#f29a3e"/><circle cx="127.3" cy="810.7" r="2.4" fill="#f29a3e"/><circle cx="124.4" cy="808.3" r="2.4" fill="#f29a3e"/><circle cx="124.0" cy="804.6" r="2.4" fill="#f29a3e"/><circle cx="126.4" cy="801.7" r="2.4" fill="#f29a3e"/><circle cx="130.1" cy="801.3" r="2.4" fill="#f29a3e"/><circle cx="133.0" cy="803.7" r="2.4" fill="#f29a3e"/><circle cx="128.7" cy="806" r="2.4" fill="#c86a18"/>
<circle cx="153.4" cy="827.3" r="6.8" fill="#e07f22"/><circle cx="158.1" cy="828.7" r="2.4" fill="#f29a3e"/><circle cx="155.7" cy="831.6" r="2.4" fill="#f29a3e"/><circle cx="152.0" cy="832.0" r="2.4" fill="#f29a3e"/><circle cx="149.1" cy="829.6" r="2.4" fill="#f29a3e"/><circle cx="148.7" cy="825.9" r="2.4" fill="#f29a3e"/><circle cx="151.1" cy="823.0" r="2.4" fill="#f29a3e"/><circle cx="154.8" cy="822.6" r="2.4" fill="#f29a3e"/><circle cx="157.7" cy="825.0" r="2.4" fill="#f29a3e"/><circle cx="153.4" cy="827.3" r="2.4" fill="#c86a18"/>
</g>
<line x1="1047.5" y1="70.1" x2="1047.5" y2="365.2" stroke="#000" stroke-width="2.0"/>
<line x1="1045.4" y1="365.2" x2="1411.5" y2="365.2" stroke="#000" stroke-width="2.0"/>
<line x1="1041.7" y1="341.00" x2="1047.5" y2="341.00" stroke="#000" stroke-width="2.0"/>
<line x1="1041.7" y1="291.88" x2="1047.5" y2="291.88" stroke="#000" stroke-width="2.0"/>
<line x1="1041.7" y1="242.76" x2="1047.5" y2="242.76" stroke="#000" stroke-width="2.0"/>
<line x1="1041.7" y1="193.64" x2="1047.5" y2="193.64" stroke="#000" stroke-width="2.0"/>
<line x1="1041.7" y1="144.52" x2="1047.5" y2="144.52" stroke="#000" stroke-width="2.0"/>
<line x1="1041.7" y1="95.40" x2="1047.5" y2="95.40" stroke="#000" stroke-width="2.0"/>
<line x1="1044.3" y1="365.56" x2="1047.5" y2="365.56" stroke="#000" stroke-width="2.0"/>
<line x1="1044.3" y1="316.44" x2="1047.5" y2="316.44" stroke="#000" stroke-width="2.0"/>
<line x1="1044.3" y1="267.32" x2="1047.5" y2="267.32" stroke="#000" stroke-width="2.0"/>
<line x1="1044.3" y1="218.20" x2="1047.5" y2="218.20" stroke="#000" stroke-width="2.0"/>
<line x1="1044.3" y1="169.08" x2="1047.5" y2="169.08" stroke="#000" stroke-width="2.0"/>
<line x1="1044.3" y1="119.96" x2="1047.5" y2="119.96" stroke="#000" stroke-width="2.0"/>
<line x1="1044.3" y1="70.84" x2="1047.5" y2="70.84" stroke="#000" stroke-width="2.0"/>
<line x1="1047.50" y1="365.2" x2="1047.50" y2="371.5" stroke="#000" stroke-width="2.0"/>
<line x1="1120.12" y1="365.2" x2="1120.12" y2="371.5" stroke="#000" stroke-width="2.0"/>
<line x1="1192.74" y1="365.2" x2="1192.74" y2="371.5" stroke="#000" stroke-width="2.0"/>
<line x1="1265.36" y1="365.2" x2="1265.36" y2="371.5" stroke="#000" stroke-width="2.0"/>
<line x1="1337.98" y1="365.2" x2="1337.98" y2="371.5" stroke="#000" stroke-width="2.0"/>
<line x1="1410.60" y1="365.2" x2="1410.60" y2="371.5" stroke="#000" stroke-width="2.0"/>
<line x1="1083.81" y1="365.2" x2="1083.81" y2="369.2" stroke="#000" stroke-width="2.0"/>
<line x1="1156.43" y1="365.2" x2="1156.43" y2="369.2" stroke="#000" stroke-width="2.0"/>
<line x1="1229.05" y1="365.2" x2="1229.05" y2="369.2" stroke="#000" stroke-width="2.0"/>
<line x1="1301.67" y1="365.2" x2="1301.67" y2="369.2" stroke="#000" stroke-width="2.0"/>
<line x1="1374.29" y1="365.2" x2="1374.29" y2="369.2" stroke="#000" stroke-width="2.0"/>
<text x="988.70" y="347.50" font-size="29.6" font-weight="bold" fill="#000" >0.0</text>
<text x="988.70" y="298.38" font-size="29.6" font-weight="bold" fill="#000" >0.2</text>
<text x="986.70" y="249.26" font-size="29.6" font-weight="bold" fill="#000" >0.4</text>
<text x="987.70" y="200.14" font-size="29.6" font-weight="bold" fill="#000" >0.6</text>
<text x="987.70" y="151.02" font-size="29.6" font-weight="bold" fill="#000" >0.8</text>
<text x="988.70" y="101.90" font-size="29.6" font-weight="bold" fill="#000" >1.0</text>
<text x="1031.50" y="402.10" font-size="29.6" font-weight="bold" fill="#000" >20</text>
<text x="1104.12" y="402.10" font-size="29.6" font-weight="bold" fill="#000" >30</text>
<text x="1177.24" y="402.10" font-size="29.6" font-weight="bold" fill="#000" >40</text>
<text x="1249.36" y="402.10" font-size="29.6" font-weight="bold" fill="#000" >50</text>
<text x="1321.98" y="402.10" font-size="29.6" font-weight="bold" fill="#000" >60</text>
<text x="1394.60" y="402.10" font-size="29.6" font-weight="bold" fill="#000" >70</text>
<text x="1122.90" y="440.50" font-size="29" font-weight="bold" fill="#000" >Temperature, °C</text>
<text transform="translate(959.60,411.20) rotate(-90)" x="0" y="0" font-size="29.2" font-weight="bold">Fraction of 3WJ-10 PTXs</text>
<line x1="1052.9" y1="219.3" x2="1133.5" y2="219.3" stroke="#a4a4a4" stroke-width="1.6" stroke-dasharray="5.8 4.2"/>
<line x1="1133.6" y1="225" x2="1133.6" y2="364" stroke="#a4a4a4" stroke-width="1.6" stroke-dasharray="4.6 5.3"/>
<path d="M1083.40,98.00 C1084.28,99.33 1086.60,102.77 1088.70,106.00 C1090.80,109.23 1093.65,113.27 1096.00,117.40 C1098.35,121.53 1100.78,126.35 1102.80,130.80 C1104.82,135.25 1106.33,139.20 1108.10,144.10 C1109.87,149.00 1111.85,155.30 1113.40,160.20 C1114.95,165.10 1115.83,168.60 1117.40,173.50 C1118.97,178.40 1121.12,184.70 1122.80,189.60 C1124.48,194.50 1125.95,198.00 1127.50,202.90 C1129.05,207.80 1130.60,213.98 1132.10,219.00 C1133.60,224.02 1134.85,228.17 1136.50,233.00 C1138.15,237.83 1139.75,241.50 1142.00,248.00 C1144.25,254.50 1147.00,264.30 1150.00,272.00 C1153.00,279.70 1156.67,287.70 1160.00,294.20 C1163.33,300.70 1166.65,306.32 1170.00,311.00 C1173.35,315.68 1176.77,319.22 1180.10,322.30 C1183.43,325.38 1186.67,327.42 1190.00,329.50 C1193.33,331.58 1196.77,333.33 1200.10,334.80 C1203.43,336.27 1206.65,337.38 1210.00,338.30 C1213.35,339.22 1216.00,339.72 1220.20,340.30 C1224.40,340.88 1228.57,341.43 1235.20,341.80 C1241.83,342.17 1249.20,342.37 1260.00,342.50 C1270.80,342.63 1280.85,342.57 1300.00,342.60 C1319.15,342.63 1362.42,342.68 1374.90,342.70" fill="none" stroke="#ff0000" stroke-width="2.2" stroke-linejoin="round" stroke-linecap="round"/>
<rect x="1081.40" y="92.40" width="6" height="6" fill="#000"/>
<rect x="1110.00" y="165.40" width="6" height="6" fill="#000"/>
<rect x="1139.00" y="236.50" width="6" height="6" fill="#000"/>
<rect x="1168.50" y="319.70" width="6" height="6" fill="#000"/>
<rect x="1197.50" y="337.30" width="6" height="6" fill="#000"/>
<rect x="1226.60" y="337.30" width="6" height="6" fill="#000"/>
<rect x="1255.30" y="337.30" width="6" height="6" fill="#000"/>
<rect x="1284.30" y="337.30" width="6" height="6" fill="#000"/>
<rect x="1313.80" y="337.30" width="6" height="6" fill="#000"/>
<rect x="1342.80" y="337.30" width="6" height="6" fill="#000"/>
<rect x="1371.90" y="337.30" width="6" height="6" fill="#000"/>
<circle cx="1133.5" cy="219.3" r="3.5" fill="#000"/>
<text x="1142.10" y="211.70" font-size="30" font-weight="bold" font-style="italic" fill="#ff0000" >T</text>
<text x="1158.70" y="220.10" font-size="21" font-weight="bold" font-style="italic" fill="#ff0000" >m</text>
<text x="1184.20" y="212.40" font-size="29" font-weight="bold" fill="#ff0000" >= 32 °C</text>
<line x1="1048.0" y1="518.8" x2="1048.0" y2="815.5" stroke="#000" stroke-width="2.0"/>
<line x1="1045.4" y1="815.5" x2="1412.3" y2="815.5" stroke="#000" stroke-width="2.0"/>
<line x1="1042.2" y1="790.30" x2="1048.0" y2="790.30" stroke="#000" stroke-width="2.0"/>
<line x1="1042.2" y1="741.20" x2="1048.0" y2="741.20" stroke="#000" stroke-width="2.0"/>
<line x1="1042.2" y1="692.10" x2="1048.0" y2="692.10" stroke="#000" stroke-width="2.0"/>
<line x1="1042.2" y1="643.00" x2="1048.0" y2="643.00" stroke="#000" stroke-width="2.0"/>
<line x1="1042.2" y1="593.90" x2="1048.0" y2="593.90" stroke="#000" stroke-width="2.0"/>
<line x1="1042.2" y1="544.80" x2="1048.0" y2="544.80" stroke="#000" stroke-width="2.0"/>
<line x1="1044.8" y1="814.85" x2="1048.0" y2="814.85" stroke="#000" stroke-width="2.0"/>
<line x1="1044.8" y1="765.75" x2="1048.0" y2="765.75" stroke="#000" stroke-width="2.0"/>
<line x1="1044.8" y1="716.65" x2="1048.0" y2="716.65" stroke="#000" stroke-width="2.0"/>
<line x1="1044.8" y1="667.55" x2="1048.0" y2="667.55" stroke="#000" stroke-width="2.0"/>
<line x1="1044.8" y1="618.45" x2="1048.0" y2="618.45" stroke="#000" stroke-width="2.0"/>
<line x1="1044.8" y1="569.35" x2="1048.0" y2="569.35" stroke="#000" stroke-width="2.0"/>
<line x1="1044.8" y1="520.25" x2="1048.0" y2="520.25" stroke="#000" stroke-width="2.0"/>
<line x1="1047.50" y1="815.5" x2="1047.50" y2="821.8" stroke="#000" stroke-width="2.0"/>
<line x1="1077.85" y1="815.5" x2="1077.85" y2="821.8" stroke="#000" stroke-width="2.0"/>
<line x1="1138.55" y1="815.5" x2="1138.55" y2="821.8" stroke="#000" stroke-width="2.0"/>
<line x1="1199.25" y1="815.5" x2="1199.25" y2="821.8" stroke="#000" stroke-width="2.0"/>
<line x1="1259.95" y1="815.5" x2="1259.95" y2="821.8" stroke="#000" stroke-width="2.0"/>
<line x1="1320.65" y1="815.5" x2="1320.65" y2="821.8" stroke="#000" stroke-width="2.0"/>
<line x1="1381.35" y1="815.5" x2="1381.35" y2="821.8" stroke="#000" stroke-width="2.0"/>
<line x1="1411.70" y1="815.5" x2="1411.70" y2="821.8" stroke="#000" stroke-width="2.0"/>
<line x1="1108.20" y1="815.5" x2="1108.20" y2="819.5" stroke="#000" stroke-width="2.0"/>
<line x1="1168.90" y1="815.5" x2="1168.90" y2="819.5" stroke="#000" stroke-width="2.0"/>
<line x1="1229.60" y1="815.5" x2="1229.60" y2="819.5" stroke="#000" stroke-width="2.0"/>
<line x1="1290.30" y1="815.5" x2="1290.30" y2="819.5" stroke="#000" stroke-width="2.0"/>
<line x1="1351.00" y1="815.5" x2="1351.00" y2="819.5" stroke="#000" stroke-width="2.0"/>
<text x="988.70" y="800.20" font-size="29.6" font-weight="bold" fill="#000" >0.0</text>
<text x="988.70" y="751.10" font-size="29.6" font-weight="bold" fill="#000" >0.2</text>
<text x="986.70" y="702.00" font-size="29.6" font-weight="bold" fill="#000" >0.4</text>
<text x="987.70" y="652.90" font-size="29.6" font-weight="bold" fill="#000" >0.6</text>
<text x="987.70" y="603.80" font-size="29.6" font-weight="bold" fill="#000" >0.8</text>
<text x="988.70" y="554.70" font-size="29.6" font-weight="bold" fill="#000" >1.0</text>
<text x="1061.85" y="854.10" font-size="29.6" font-weight="bold" fill="#000" >80</text>
<text x="1123.05" y="854.10" font-size="29.6" font-weight="bold" fill="#000" >40</text>
<text x="1183.25" y="854.10" font-size="29.6" font-weight="bold" fill="#000" >50</text>
<text x="1243.95" y="854.10" font-size="29.6" font-weight="bold" fill="#000" >60</text>
<text x="1304.65" y="854.10" font-size="29.6" font-weight="bold" fill="#000" >70</text>
<text x="1365.35" y="854.10" font-size="29.6" font-weight="bold" fill="#000" >80</text>
<text x="1122.90" y="889.90" font-size="29" font-weight="bold" fill="#000" >Temperature, °C</text>
<text transform="translate(959.70,870.60) rotate(-90)" x="0" y="0" font-size="29.2" font-weight="bold">Fraction of 4WJ-X-24 PTXs</text>
<line x1="1052" y1="668.3" x2="1372" y2="668.3" stroke="#a4a4a4" stroke-width="1.6" stroke-dasharray="5.8 4.2"/>
<line x1="1377" y1="680" x2="1377" y2="814" stroke="#a4a4a4" stroke-width="1.6" stroke-dasharray="4.4 5.5"/>
<path d="M1078.30,540.30 C1079.42,540.43 1082.63,540.91 1085.00,541.10 C1087.37,541.29 1090.00,541.33 1092.50,541.45 C1095.00,541.57 1097.50,541.70 1100.00,541.83 C1102.50,541.96 1105.00,542.10 1107.50,542.25 C1110.00,542.39 1112.50,542.55 1115.00,542.71 C1117.50,542.87 1120.00,543.03 1122.50,543.21 C1125.00,543.39 1127.50,543.57 1130.00,543.77 C1132.50,543.96 1135.00,544.16 1137.50,544.37 C1140.00,544.59 1142.50,544.81 1145.00,545.04 C1147.50,545.27 1150.00,545.52 1152.50,545.77 C1155.00,546.03 1157.50,546.30 1160.00,546.58 C1162.50,546.86 1165.00,547.15 1167.50,547.46 C1170.00,547.77 1172.50,548.09 1175.00,548.43 C1177.50,548.77 1180.00,549.13 1182.50,549.50 C1185.00,549.87 1187.50,550.26 1190.00,550.67 C1192.50,551.08 1195.00,551.50 1197.50,551.95 C1200.00,552.40 1202.50,552.87 1205.00,553.36 C1207.50,553.85 1210.00,554.37 1212.50,554.91 C1215.00,555.45 1217.50,556.01 1220.00,556.61 C1222.50,557.20 1225.00,557.82 1227.50,558.47 C1230.00,559.12 1232.50,559.80 1235.00,560.52 C1237.50,561.23 1240.00,561.98 1242.50,562.77 C1245.00,563.55 1247.50,564.37 1250.00,565.23 C1252.50,566.10 1255.00,567.00 1257.50,567.94 C1260.00,568.89 1262.50,569.88 1265.00,570.92 C1267.50,571.96 1270.00,573.04 1272.50,574.18 C1275.00,575.33 1277.50,576.51 1280.00,577.77 C1282.50,579.02 1285.00,580.33 1287.50,581.70 C1290.00,583.08 1292.50,584.51 1295.00,586.03 C1297.50,587.54 1300.00,589.11 1302.50,590.77 C1305.00,592.43 1307.50,594.16 1310.00,595.98 C1312.50,597.80 1315.00,599.70 1317.50,601.70 C1320.00,603.69 1322.50,605.78 1325.00,607.97 C1327.50,610.17 1330.00,612.45 1332.50,614.86 C1335.00,617.27 1337.50,619.79 1340.00,622.43 C1342.50,625.08 1345.00,627.83 1347.50,630.74 C1350.00,633.64 1352.50,636.67 1355.00,639.86 C1357.50,643.05 1360.00,646.37 1362.50,649.87 C1365.00,653.37 1367.50,657.02 1370.00,660.86 C1372.50,664.70 1375.37,669.17 1377.50,672.93 C1379.63,676.68 1381.92,681.65 1382.80,683.40" fill="none" stroke="#ff0000" stroke-width="2.2" stroke-linejoin="round" stroke-linecap="round"/>
<rect x="1076.00" y="541.00" width="6" height="6" fill="#000"/>
<rect x="1105.70" y="550.00" width="6" height="6" fill="#000"/>
<rect x="1136.10" y="533.20" width="6" height="6" fill="#000"/>
<rect x="1166.90" y="547.90" width="6" height="6" fill="#000"/>
<rect x="1196.90" y="548.60" width="6" height="6" fill="#000"/>
<rect x="1227.10" y="544.80" width="6" height="6" fill="#000"/>
<rect x="1257.70" y="558.70" width="6" height="6" fill="#000"/>
<rect x="1287.90" y="575.50" width="6" height="6" fill="#000"/>
<rect x="1318.00" y="609.90" width="6" height="6" fill="#000"/>
<rect x="1348.70" y="647.90" width="6" height="6" fill="#000"/>
<rect x="1379.20" y="670.70" width="6" height="6" fill="#000"/>
<circle cx="1375.4" cy="667.9" r="3.5" fill="#000"/>
<text x="1217.70" y="702.10" font-size="30" font-weight="bold" font-style="italic" fill="#ff0000" >T</text>
<text x="1234.20" y="710.30" font-size="30" font-weight="bold" font-style="italic" fill="#ff0000" >m</text>
<text x="1267.30" y="702.60" font-size="29" font-weight="bold" fill="#ff0000" >= 79 °C</text>
<line x1="177.5" y1="984.1" x2="177.5" y2="1361.2" stroke="#000" stroke-width="2.4"/>
<line x1="169.2" y1="1361.2" x2="643.7" y2="1361.2" stroke="#000" stroke-width="2.4"/>
<line x1="168.8" y1="1360.90" x2="177.5" y2="1360.90" stroke="#000" stroke-width="2.4"/>
<text x="142.30" y="1371.30" font-size="29.6" font-weight="bold" fill="#000" >0</text>
<line x1="168.8" y1="1292.40" x2="177.5" y2="1292.40" stroke="#000" stroke-width="2.4"/>
<text x="126.30" y="1302.80" font-size="29.6" font-weight="bold" fill="#000" >20</text>
<line x1="168.8" y1="1223.90" x2="177.5" y2="1223.90" stroke="#000" stroke-width="2.4"/>
<text x="126.30" y="1234.30" font-size="29.6" font-weight="bold" fill="#000" >40</text>
<line x1="168.8" y1="1155.40" x2="177.5" y2="1155.40" stroke="#000" stroke-width="2.4"/>
<text x="126.30" y="1165.80" font-size="29.6" font-weight="bold" fill="#000" >60</text>
<line x1="168.8" y1="1086.90" x2="177.5" y2="1086.90" stroke="#000" stroke-width="2.4"/>
<text x="126.30" y="1097.30" font-size="29.6" font-weight="bold" fill="#000" >80</text>
<line x1="168.8" y1="1018.40" x2="177.5" y2="1018.40" stroke="#000" stroke-width="2.4"/>
<text x="109.30" y="1028.80" font-size="29.6" font-weight="bold" fill="#000" >100</text>
<line x1="172" y1="1326.65" x2="177.5" y2="1326.65" stroke="#000" stroke-width="2.4"/>
<line x1="172" y1="1258.15" x2="177.5" y2="1258.15" stroke="#000" stroke-width="2.4"/>
<line x1="172" y1="1189.65" x2="177.5" y2="1189.65" stroke="#000" stroke-width="2.4"/>
<line x1="172" y1="1121.15" x2="177.5" y2="1121.15" stroke="#000" stroke-width="2.4"/>
<line x1="172" y1="1052.65" x2="177.5" y2="1052.65" stroke="#000" stroke-width="2.4"/>
<line x1="172" y1="984.15" x2="177.5" y2="984.15" stroke="#000" stroke-width="2.4"/>
<line x1="177.30" y1="1361.2" x2="177.30" y2="1368.6" stroke="#000" stroke-width="2.4"/>
<text x="152.30" y="1403.10" font-size="29.6" font-weight="bold" fill="#000" >100</text>
<line x1="286.50" y1="1361.2" x2="286.50" y2="1368.6" stroke="#000" stroke-width="2.4"/>
<text x="270.50" y="1403.10" font-size="29.6" font-weight="bold" fill="#000" >80</text>
<line x1="395.70" y1="1361.2" x2="395.70" y2="1368.6" stroke="#000" stroke-width="2.4"/>
<text x="379.70" y="1403.10" font-size="29.6" font-weight="bold" fill="#000" >60</text>
<line x1="504.90" y1="1361.2" x2="504.90" y2="1368.6" stroke="#000" stroke-width="2.4"/>
<text x="489.40" y="1403.10" font-size="29.6" font-weight="bold" fill="#000" >40</text>
<line x1="614.10" y1="1361.2" x2="614.10" y2="1368.6" stroke="#000" stroke-width="2.4"/>
<text x="598.10" y="1403.10" font-size="29.6" font-weight="bold" fill="#000" >20</text>
<text x="299.10" y="1450.20" font-size="29" font-weight="bold" fill="#000" >Temperature, °C</text>
<text transform="translate(86.00,1330.20) rotate(-90)" x="0" y="0" font-size="29.2" font-weight="bold">SYBR green II FL (a.u.)</text>
<path d="M203.90,1347.20 C204.58,1347.20 206.73,1347.23 208.00,1347.20 C209.27,1347.17 210.37,1347.43 211.50,1347.00 C212.63,1346.57 213.67,1345.57 214.80,1344.60 C215.93,1343.63 216.37,1343.33 218.30,1341.20 C220.23,1339.07 223.72,1335.48 226.40,1331.80 C229.08,1328.12 231.73,1324.22 234.40,1319.10 C237.07,1313.98 239.73,1306.93 242.40,1301.10 C245.07,1295.27 247.73,1289.95 250.40,1284.10 C253.07,1278.25 255.37,1272.27 258.40,1266.00 C261.43,1259.73 264.90,1254.33 268.60,1246.50 C272.30,1238.67 276.88,1227.58 280.60,1219.00 C284.32,1210.42 287.75,1203.00 290.90,1195.00 C294.05,1187.00 296.78,1178.43 299.50,1171.00 C302.22,1163.57 305.05,1156.12 307.20,1150.40 C309.35,1144.68 310.25,1142.98 312.40,1136.70 C314.55,1130.42 317.67,1119.57 320.10,1112.70 C322.53,1105.83 324.72,1101.52 327.00,1095.50 C329.28,1089.48 331.57,1081.77 333.80,1076.60 C336.03,1071.43 338.45,1067.93 340.40,1064.50 C342.35,1061.07 343.82,1058.15 345.50,1056.00 C347.18,1053.85 348.75,1052.53 350.50,1051.60 C352.25,1050.67 347.75,1050.62 356.00,1050.40 C364.25,1050.18 356.87,1050.32 400.00,1050.30 C443.13,1050.28 579.00,1050.30 614.80,1050.30" fill="none" stroke="#ff7d00" stroke-width="2.2" stroke-linejoin="round"/>
<path d="M204.30,1356.60 C211.98,1356.27 238.62,1355.27 250.40,1354.60 C262.18,1353.93 268.07,1353.28 275.00,1352.60 C281.93,1351.92 286.35,1351.50 292.00,1350.50 C297.65,1349.50 303.85,1348.00 308.90,1346.60 C313.95,1345.20 317.83,1343.88 322.30,1342.10 C326.77,1340.32 331.53,1338.20 335.70,1335.90 C339.87,1333.60 343.58,1331.35 347.30,1328.30 C351.02,1325.25 354.73,1321.47 358.00,1317.60 C361.27,1313.73 363.93,1309.12 366.90,1305.10 C369.87,1301.08 373.27,1297.52 375.80,1293.50 C378.33,1289.48 379.87,1285.17 382.10,1281.00 C384.33,1276.83 386.97,1272.80 389.20,1268.50 C391.43,1264.20 393.27,1259.95 395.50,1255.20 C397.73,1250.45 399.57,1247.03 402.60,1240.00 C405.63,1232.97 409.42,1222.22 413.70,1213.00 C417.98,1203.78 424.00,1193.98 428.30,1184.70 C432.60,1175.42 435.63,1165.58 439.50,1157.30 C443.37,1149.02 448.07,1141.58 451.50,1135.00 C454.93,1128.42 457.53,1123.23 460.10,1117.80 C462.67,1112.37 464.33,1107.83 466.90,1102.40 C469.47,1096.97 472.92,1089.50 475.50,1085.20 C478.08,1080.90 479.83,1078.83 482.40,1076.60 C484.97,1074.37 486.90,1072.57 490.90,1071.80 C494.90,1071.03 501.82,1072.63 506.40,1072.00 C510.98,1071.37 514.40,1069.95 518.40,1068.00 C522.40,1066.05 526.40,1062.43 530.40,1060.30 C534.40,1058.17 538.40,1056.92 542.40,1055.20 C546.40,1053.48 549.53,1051.52 554.40,1050.00 C559.27,1048.48 565.88,1047.10 571.60,1046.10 C577.32,1045.10 581.55,1044.35 588.70,1044.00 C595.85,1043.65 610.20,1044.00 614.50,1044.00" fill="none" stroke="#00bf9f" stroke-width="2.2" stroke-linejoin="round"/>
<circle cx="311.5" cy="1137.5" r="3.6" fill="#ff7d00"/>
<circle cx="428.2" cy="1185.1" r="3.6" fill="#00bf9f"/>
<text x="267.00" y="1142.70" font-size="30" font-weight="bold" font-style="italic" fill="#ff7d00" >T</text>
<text x="283.80" y="1150.70" font-size="20" font-weight="bold" font-style="italic" fill="#ff7d00" >a</text>
<text x="383.90" y="1183.80" font-size="30" font-weight="bold" font-style="italic" fill="#00bf9f" >T</text>
<text x="400.80" y="1191.60" font-size="20" font-weight="bold" font-style="italic" fill="#00bf9f" >a</text>
<line x1="432.5" y1="1292" x2="472.7" y2="1292" stroke="#ff7d00" stroke-width="2.2"/>
<line x1="432.5" y1="1330.9" x2="472.7" y2="1330.9" stroke="#00bf9f" stroke-width="2.2"/>
<text x="483.10" y="1300.70" font-size="25" font-weight="bold" fill="#000" >4WJ-X-24 PTXs, 2.5 µM</text>
<text x="482.10" y="1338.10" font-size="25" font-weight="bold" fill="#000" >3WJ-10 PTXs, 2.5 µM</text>
<line x1="1048.3" y1="999.1" x2="1048.3" y2="1361.2" stroke="#000" stroke-width="3.0"/>
<line x1="1042.5" y1="1361.2" x2="1494.8" y2="1361.2" stroke="#000" stroke-width="3.0"/>
<line x1="1041" y1="1361.20" x2="1048.3" y2="1361.20" stroke="#000" stroke-width="3.0"/>
<text x="988.90" y="1372.60" font-size="29.6" font-weight="bold" fill="#000" >0.0</text>
<line x1="1041" y1="1292.20" x2="1048.3" y2="1292.20" stroke="#000" stroke-width="3.0"/>
<text x="988.90" y="1303.60" font-size="29.6" font-weight="bold" fill="#000" >0.2</text>
<line x1="1041" y1="1223.20" x2="1048.3" y2="1223.20" stroke="#000" stroke-width="3.0"/>
<text x="986.90" y="1234.60" font-size="29.6" font-weight="bold" fill="#000" >0.4</text>
<line x1="1041" y1="1154.20" x2="1048.3" y2="1154.20" stroke="#000" stroke-width="3.0"/>
<text x="987.90" y="1165.60" font-size="29.6" font-weight="bold" fill="#000" >0.6</text>
<line x1="1041" y1="1085.20" x2="1048.3" y2="1085.20" stroke="#000" stroke-width="3.0"/>
<text x="987.90" y="1096.60" font-size="29.6" font-weight="bold" fill="#000" >0.8</text>
<line x1="1041" y1="1016.20" x2="1048.3" y2="1016.20" stroke="#000" stroke-width="3.0"/>
<text x="988.90" y="1027.60" font-size="29.6" font-weight="bold" fill="#000" >1.0</text>
<line x1="1044.6" y1="1326.70" x2="1048.3" y2="1326.70" stroke="#000" stroke-width="3.0"/>
<line x1="1044.6" y1="1257.70" x2="1048.3" y2="1257.70" stroke="#000" stroke-width="3.0"/>
<line x1="1044.6" y1="1188.70" x2="1048.3" y2="1188.70" stroke="#000" stroke-width="3.0"/>
<line x1="1044.6" y1="1119.70" x2="1048.3" y2="1119.70" stroke="#000" stroke-width="3.0"/>
<line x1="1044.6" y1="1050.70" x2="1048.3" y2="1050.70" stroke="#000" stroke-width="3.0"/>
<line x1="1048.40" y1="1361.2" x2="1048.40" y2="1368.4" stroke="#000" stroke-width="3.0"/>
<line x1="1085.50" y1="1361.2" x2="1085.50" y2="1368.4" stroke="#000" stroke-width="3.0"/>
<line x1="1159.70" y1="1361.2" x2="1159.70" y2="1368.4" stroke="#000" stroke-width="3.0"/>
<line x1="1233.90" y1="1361.2" x2="1233.90" y2="1368.4" stroke="#000" stroke-width="3.0"/>
<line x1="1308.10" y1="1361.2" x2="1308.10" y2="1368.4" stroke="#000" stroke-width="3.0"/>
<line x1="1382.30" y1="1361.2" x2="1382.30" y2="1368.4" stroke="#000" stroke-width="3.0"/>
<line x1="1456.50" y1="1361.2" x2="1456.50" y2="1368.4" stroke="#000" stroke-width="3.0"/>
<line x1="1493.60" y1="1361.2" x2="1493.60" y2="1368.4" stroke="#000" stroke-width="3.0"/>
<line x1="1122.60" y1="1361.2" x2="1122.60" y2="1366" stroke="#000" stroke-width="3.0"/>
<line x1="1196.80" y1="1361.2" x2="1196.80" y2="1366" stroke="#000" stroke-width="3.0"/>
<line x1="1271.00" y1="1361.2" x2="1271.00" y2="1366" stroke="#000" stroke-width="3.0"/>
<line x1="1345.20" y1="1361.2" x2="1345.20" y2="1366" stroke="#000" stroke-width="3.0"/>
<line x1="1419.40" y1="1361.2" x2="1419.40" y2="1366" stroke="#000" stroke-width="3.0"/>
<text x="1077.50" y="1403.40" font-size="29.6" font-weight="bold" fill="#000" >0</text>
<text x="1143.20" y="1403.40" font-size="29.6" font-weight="bold" fill="#000" >10</text>
<text x="1217.90" y="1403.40" font-size="29.6" font-weight="bold" fill="#000" >20</text>
<text x="1292.10" y="1403.40" font-size="29.6" font-weight="bold" fill="#000" >30</text>
<text x="1366.80" y="1403.40" font-size="29.6" font-weight="bold" fill="#000" >40</text>
<text x="1440.50" y="1403.40" font-size="29.6" font-weight="bold" fill="#000" >50</text>
<text x="1146.50" y="1449.50" font-size="29" font-weight="bold" fill="#000" >Incubation time, h</text>
<text transform="translate(959.70,1353.40) rotate(-90)" x="0" y="0" font-size="29.2" font-weight="bold">Fraction of intact particle</text>
<path d="M1085.30,1011.00 C1086.58,1011.77 1090.32,1013.77 1093.00,1015.60 C1095.68,1017.43 1098.57,1019.52 1101.40,1022.00 C1104.23,1024.48 1106.88,1027.57 1110.00,1030.50 C1113.12,1033.43 1116.43,1036.43 1120.10,1039.60 C1123.77,1042.77 1127.55,1046.08 1132.00,1049.50 C1136.45,1052.92 1139.88,1055.52 1146.80,1060.10 C1153.72,1064.68 1164.60,1072.10 1173.50,1077.00 C1182.40,1081.90 1191.28,1085.85 1200.20,1089.50 C1209.12,1093.15 1215.87,1095.55 1227.00,1098.90 C1238.13,1102.25 1253.65,1106.58 1267.00,1109.60 C1280.35,1112.62 1293.73,1115.00 1307.10,1117.00 C1320.47,1119.00 1331.62,1120.27 1347.20,1121.60 C1362.78,1122.93 1384.70,1123.98 1400.60,1125.00 C1416.50,1126.02 1435.60,1127.25 1442.60,1127.70" fill="none" stroke="#ff0000" stroke-width="2.9" stroke-linejoin="round" stroke-linecap="round"/>
<polygon points="1085.3,1011.30 1090.60,1016.6 1085.3,1021.90 1080.00,1016.6" fill="#000"/>
<polygon points="1093.4,1012.10 1098.70,1017.4 1093.4,1022.70 1088.10,1017.4" fill="#000"/>
<polygon points="1101.4,1014.70 1106.70,1020 1101.4,1025.30 1096.10,1020" fill="#000"/>
<polygon points="1115.5,1020.10 1120.80,1025.4 1115.5,1030.70 1110.20,1025.4" fill="#000"/>
<polygon points="1144.9,1058.00 1150.20,1063.3 1144.9,1068.60 1139.60,1063.3" fill="#000"/>
<polygon points="1174.9,1089.00 1180.20,1094.3 1174.9,1099.60 1169.60,1094.3" fill="#000"/>
<polygon points="1204.2,1065.50 1209.50,1070.8 1204.2,1076.10 1198.90,1070.8" fill="#000"/>
<polygon points="1264.4,1108.80 1269.70,1114.1 1264.4,1119.40 1259.10,1114.1" fill="#000"/>
<polygon points="1353.9,1115.70 1359.20,1121 1353.9,1126.30 1348.60,1121" fill="#000"/>
<polygon points="1442.6,1123.00 1447.90,1128.3 1442.6,1133.60 1437.30,1128.3" fill="#000"/>
</svg></body></html>
